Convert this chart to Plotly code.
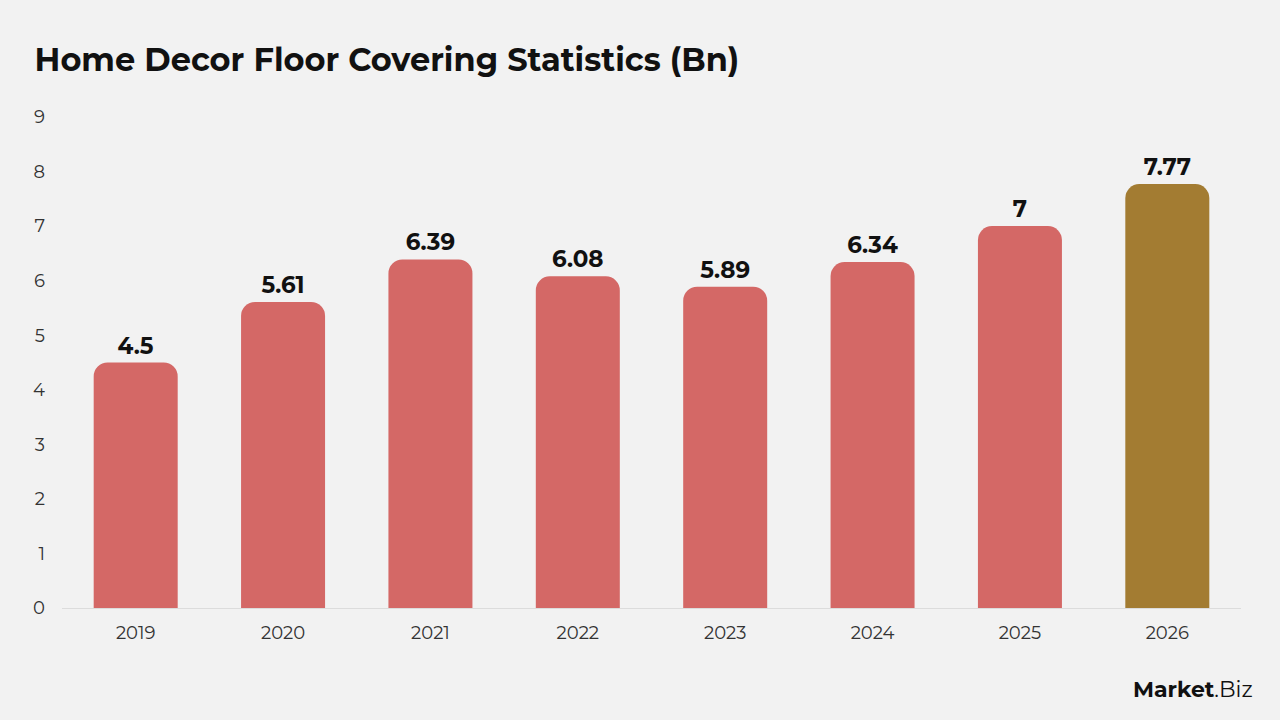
import plotly.graph_objects as go

years = ["2019", "2020", "2021", "2022", "2023", "2024", "2025", "2026"]
values = [4.5, 5.61, 6.39, 6.08, 5.89, 6.34, 7, 7.77]
labels = ["4.5", "5.61", "6.39", "6.08", "5.89", "6.34", "7", "7.77"]
colors = ["#D46866"] * 7 + ["#A37C32"]

fig = go.Figure(go.Bar(
    x=years, y=values, marker=dict(color=colors, line=dict(width=0), cornerradius=14),
    text=labels, textposition="outside", cliponaxis=False,
    textfont=dict(family="Montserrat, Lato, Open Sans, sans-serif", size=23, color="#111111", weight="bold"),
    hoverinfo="skip",
))

fig.update_layout(
    width=1280, height=720,
    paper_bgcolor="#F2F2F2", plot_bgcolor="#F2F2F2",
    margin=dict(l=62, r=39, t=117, b=112),
    bargap=0.43,
    showlegend=False,
    font=dict(family="Montserrat, Lato, Open Sans, sans-serif", color="#333333"),
    title=dict(text="<b>Home Decor Floor Covering Statistics (Bn)</b>", x=0.027, xanchor="left",
               y=0.917, yanchor="middle", font=dict(size=32, color="#111111")),
)
fig.update_xaxes(showgrid=False, showline=True, linecolor="#DCDCDC", linewidth=1,
                 tickfont=dict(size=18, color="#333333"), ticks="", ticklabelstandoff=8)
fig.update_yaxes(range=[0, 9], dtick=1, showgrid=False, zeroline=False, showline=False,
                 tickfont=dict(size=18, color="#333333"), ticks="", ticklabelstandoff=16)

fig.add_annotation(xref="paper", yref="paper", x=1.012, y=-0.165, xanchor="right", yanchor="middle",
                   text="<b>Market</b>.Biz", showarrow=False,
                   font=dict(family="Montserrat, Lato, Open Sans, sans-serif", size=22, color="#111111"))

fig.write_html("out.html")
